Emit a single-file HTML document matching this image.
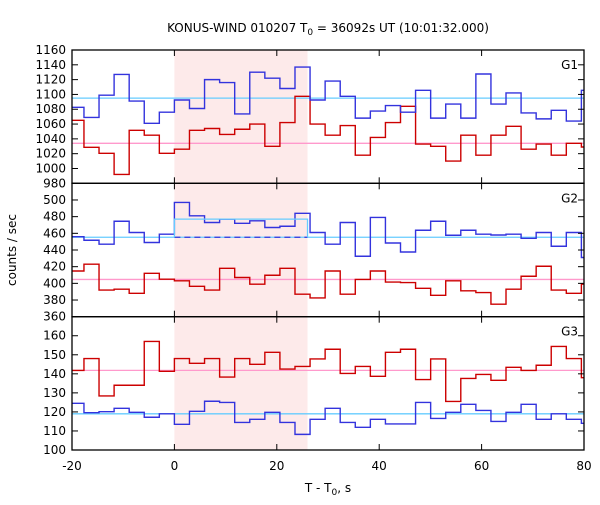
<!DOCTYPE html>
<html><head><meta charset="utf-8"><style>
body{margin:0;background:#fff;}
svg text{font-family:"DejaVu Sans","Liberation Sans",sans-serif;font-size:12px;fill:#000;}
</style></head><body>
<svg id="chart" width="600" height="500" xmlns="http://www.w3.org/2000/svg">
<text x="328" y="32" text-anchor="middle">KONUS-WIND 010207 T<tspan font-size="9" dy="3">0</tspan><tspan dy="-3"> = 36092s UT (10:01:32.000)</tspan></text>
<text transform="translate(16,250) rotate(-90)" text-anchor="middle">counts / sec</text>
<text x="328" y="492" text-anchor="middle">T - T<tspan font-size="9" dy="3">0</tspan><tspan dy="-3">, s</tspan></text>
<g id="plots"></g>
</svg>
<script>
const binWidth = 2.944;
const firstBin = -7;
const xTicks = [-20, 0, 20, 40, 60, 80];
const shadeRange = [0, 26];
const g1Blue = [1082.6,1069,1099,1127,1091,1061,1076,1092.5,1081,1120,1116,1073.6,1130,1122,1108,1137,1092.5,1118,1097.5,1068,1077.6,1085,1076,1105.6,1068,1087,1068,1127.6,1087,1102,1075,1067,1078.6,1064,1105.6];
const g1Red = [1065,1028.6,1020.5,992,1051.6,1045,1020.5,1026,1051.6,1054,1046,1053,1060,1030,1062,1097.5,1060,1045,1058,1018,1042,1062,1084,1033,1030,1010,1045,1018,1045,1057,1026,1033,1018,1034,1029];
const g2Blue = [456,451.7,447,474.5,461,449,459,497,481,473,477,472,475,467,468.5,484,461,447,473,432.5,479,448.4,437.6,463.7,474.5,457.7,463.7,459,458,459,454,461,444.5,461,431];
const g2Red = [414.8,423,392,393,388,412,405,403,396.5,392,418,407,399,409.7,418,387,382.5,414.8,387,404.7,414.8,401.6,401,394,385.7,403,391,389,375,393,408.5,420.5,392,388,399];
const g3Blue = [124.5,119.6,120.1,121.9,119.8,117.2,119,113.5,120.3,125.6,125,114.5,116.1,119.8,114.5,108.2,116.1,121.9,114.5,111.9,116.1,113.7,113.7,125,116.6,119.8,124,120.8,115,119.8,124,116.1,119,116.1,114];
const g3Red = [141.8,148,128.4,134,134,157,141.3,148,145.5,148,138.3,148,145,151.3,142.5,143.9,147.8,152.9,140.2,143.9,138.7,151.3,152.9,137,147.8,125.5,137.6,139.7,136.6,143.4,141.8,144.5,154.4,148,138];
const g1Means = [1095, 1034];
const g2Means = [455.3, 404.7];
const g2BurstLevel = 477;
const g3Means = [119, 141.8];
const g1Ticks = [980,1000,1020,1040,1060,1080,1100,1120,1140,1160];
const g2Ticks = [360,380,400,420,440,460,480,500];
const g3Ticks = [100,110,120,130,140,150,160];

const NS = "http://www.w3.org/2000/svg";
const X0 = 72, X1 = 584, XMIN = -20, XMAX = 80;
const xs = v => X0 + (v - XMIN) / (XMAX - XMIN) * (X1 - X0);
const root = document.getElementById('plots');
function mk(tag, attrs, parent){ const e = document.createElementNS(NS, tag); for (const k in attrs) e.setAttribute(k, attrs[k]); (parent||root).appendChild(e); return e; }

const panels = [
 {name:'g1', top:50, bot:183.3, min:980, max:1160, ticks:g1Ticks, blue:g1Blue, red:g1Red, means:g1Means, label:'G1'},
 {name:'g2', top:183.3, bot:316.7, min:360, max:520, ticks:g2Ticks, blue:g2Blue, red:g2Red, means:g2Means, label:'G2'},
 {name:'g3', top:316.7, bot:450, min:100, max:170, ticks:g3Ticks, blue:g3Blue, red:g3Red, means:g3Means, label:'G3'}
];

const sh = mk('rect', {x: xs(shadeRange[0]), y: 50, width: xs(shadeRange[1]) - xs(shadeRange[0]), height: 400, fill: '#fdeaea'});



function stepPath(vals, ys){
  let d = '';
  vals.forEach((v, i) => {
    const t0 = Math.max(XMIN, (firstBin + i) * binWidth);
    const t1 = Math.min(XMAX, (firstBin + i + 1) * binWidth);
    const y = ys(v).toFixed(2);
    d += (i === 0 ? 'M' : 'L') + xs(t0).toFixed(2) + ' ' + y + ' L' + xs(t1).toFixed(2) + ' ' + y + ' ';
  });
  return d;
}

panels.forEach(p => {
  const ys = v => p.bot - (v - p.min) / (p.max - p.min) * (p.bot - p.top);
  const g = mk('g', {});
  
  
  const mb = mk('line', {x1: X0, x2: X1, y1: ys(p.means[0]), y2: ys(p.means[0]), stroke: '#66ccff', 'stroke-width': 1.3}, g);
  
  
  const mr = mk('line', {x1: X0, x2: X1, y1: ys(p.means[1]), y2: ys(p.means[1]), stroke: '#ff99cc', 'stroke-width': 1.3}, g);
  
  
  const pr = mk('path', {d: stepPath(p.red, ys), fill: 'none', stroke: '#cc0000', 'stroke-width': 1.4}, g);
  
  
  const pb = mk('path', {d: stepPath(p.blue, ys), fill: 'none', stroke: '#3333dd', 'stroke-width': 1.4}, g);
  
  
  if (p.name === 'g2') {
    const bx0 = xs(shadeRange[0]), bx1 = xs(shadeRange[1]);
    const dl = mk('line', {x1: bx0, x2: bx1, y1: ys(p.means[0]), y2: ys(p.means[0]), stroke: '#3333dd', 'stroke-width': 1.3, 'stroke-dasharray': '6,4'}, g);
    
    
    const bl = mk('path', {d: `M${bx0} ${ys(p.means[0])} L${bx0} ${ys(g2BurstLevel)} L${bx1} ${ys(g2BurstLevel)} L${bx1} ${ys(p.means[0])}`, fill: 'none', stroke: '#66ccff', 'stroke-width': 1.3}, g);
    
    
  }
  const fr = mk('rect', {x: X0, y: p.top, width: X1 - X0, height: p.bot - p.top, fill: 'none', stroke: '#000', 'stroke-width': 1.3}, g);
  
  
  p.ticks.forEach(t => {
    const y = ys(t);
    mk('line', {x1: X0, x2: X0 + 6, y1: y, y2: y, stroke: '#000'}, g);
    mk('line', {x1: X1 - 6, x2: X1, y1: y, y2: y, stroke: '#000'}, g);
    const tl = mk('text', {x: X0 - 6, y: y + 4, 'text-anchor': 'end'}, g);
    tl.textContent = t;
    
    
  });
  xTicks.forEach(t => {
    const x = xs(t);
    mk('line', {x1: x, x2: x, y1: p.top, y2: p.top + 6, stroke: '#000'}, g);
    mk('line', {x1: x, x2: x, y1: p.bot - 6, y2: p.bot, stroke: '#000'}, g);
  });
  const lb = mk('text', {x: 578, y: p.top + 19, 'text-anchor': 'end'}, g);
  lb.textContent = p.label;
  
  
});

xTicks.forEach(t => {
  const tl = mk('text', {x: xs(t), y: 470, 'text-anchor': 'middle'});
  tl.textContent = t;
  
  
});
</script>
</body></html>
